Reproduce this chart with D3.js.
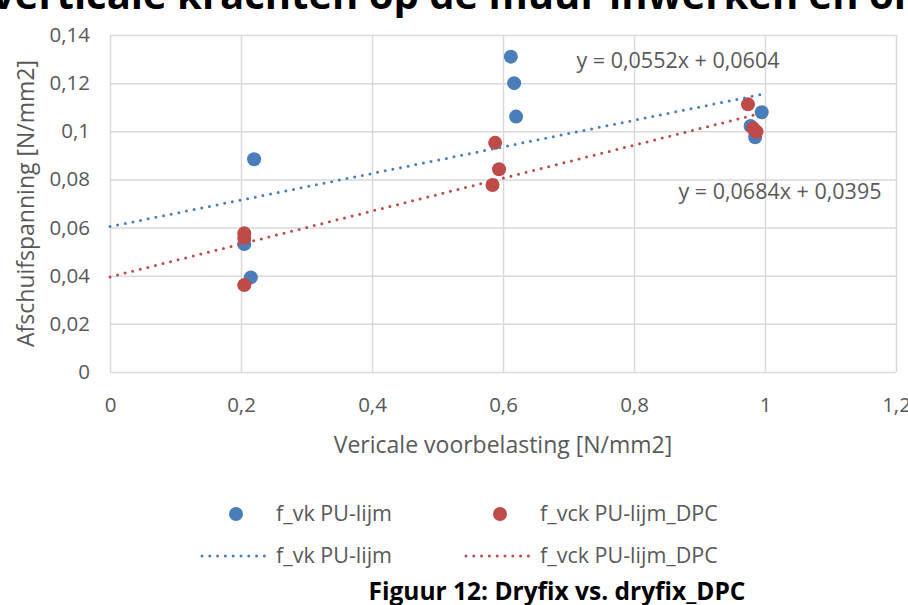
<!DOCTYPE html>
<html>
<head>
<meta charset="utf-8">
<script src="https://cdn.jsdelivr.net/npm/d3@7"></script>
<style>
	body { margin: 0; background: #fff; }
	svg { display: block; font-family: 'Open Sans', sans-serif; }
	.tick text { fill: #595959; font-size: 20.5px; }
	.grid line { stroke: #d9d9d9; stroke-width: 1.5; }
	.label { fill: #595959; font-size: 21.5px; }
	.axis-title { fill: #595959; font-size: 23px; }
</style>
</head>
<body>
<svg></svg>
<script>
// series: f_vk PU-lijm
const vkX = [0.220, 0.215, 0.205, 0.612, 0.617, 0.620, 0.995, 0.985, 0.978]
const vkY = [0.0884, 0.0393, 0.0532, 0.131, 0.120, 0.1061, 0.1079, 0.0975, 0.1022]
// series: f_vck PU-lijm_DPC
const vckX = [0.205, 0.205, 0.205, 0.588, 0.594, 0.584, 0.974, 0.982, 0.987]
const vckY = [0.0576, 0.0557, 0.0361, 0.0952, 0.0842, 0.0777, 0.1112, 0.1012, 0.0998]
// linear trendlines as printed on the chart [slope, intercept]
const vkTrend = [0.0552, 0.0604]
const vckTrend = [0.0684, 0.0395]

const seriesNames = ['f_vk PU-lijm', 'f_vck PU-lijm_DPC']
const xTicks = [0, 0.2, 0.4, 0.6, 0.8, 1, 1.2]
const yTicks = [0, 0.02, 0.04, 0.06, 0.08, 0.1, 0.12, 0.14]

const W = 908, H = 605
const plot = {left: 110, right: 896, top: 35, bottom: 372}
const colors = ['#4a7ebb', '#be4b48']

const nl = d3.formatLocale({decimal: ',', thousands: '.', grouping: [3], currency: ['€', '']})
const fmt = nl.format('~r')
const eqFmt = nl.format('.4f')

const x = d3.scaleLinear().domain([0, 1.2]).range([plot.left, plot.right])
const y = d3.scaleLinear().domain([0, 0.14]).range([plot.bottom, plot.top])

const svg = d3.select('svg')
	.attr('width', W)
	.attr('height', H)

// cut off heading from the page above
svg.append('text')
	.attr('x', -8)
	.attr('y', 9)
	.style('font-weight', 700)
	.style('font-size', '40px')
	.attr('fill', '#000')
	.text('verticale krachten op de muur inwerken en on')

// grid
svg.append('g')
	.attr('class', 'grid')
	.attr('transform', `translate(${plot.left},0)`)
	.call(d3.axisLeft(y).tickValues(yTicks).tickSize(-(plot.right - plot.left)).tickFormat(fmt).tickPadding(20))
	.call(g => g.select('.domain').remove())

svg.append('g')
	.attr('class', 'grid')
	.attr('transform', `translate(0,${plot.bottom})`)
	.call(d3.axisBottom(x).tickValues(xTicks).tickSize(-(plot.bottom - plot.top)).tickFormat(fmt).tickPadding(22))
	.call(g => g.select('.domain').remove())
	.selectAll('.tick text').attr('dy', '0.9em')

svg.selectAll('.tick text').style('font-family', "'Open Sans', sans-serif")

// axis titles
svg.append('text')
	.attr('class', 'axis-title')
	.attr('x', (plot.left + plot.right) / 2)
	.attr('y', 453)
	.attr('text-anchor', 'middle')
	.text('Vericale voorbelasting [N/mm2]')

svg.append('text')
	.attr('class', 'axis-title')
	.attr('transform', `translate(34,${(plot.top + plot.bottom) / 2}) rotate(-90)`)
	.attr('text-anchor', 'middle')
	.text('Afschuifspanning [N/mm2]')

const series = [
	{name: seriesNames[0], xs: vkX, ys: vkY, trend: vkTrend, color: colors[0]},
	{name: seriesNames[1], xs: vckX, ys: vckY, trend: vckTrend, color: colors[1]},
]

// markers
series.forEach(s => {
	svg.append('g')
		.selectAll('circle')
		.data(s.xs.map((v, i) => ({x: v, y: s.ys[i]})))
		.join('circle')
		.attr('cx', d => x(d.x))
		.attr('cy', d => y(d.y))
		.attr('r', 7)
		.attr('fill', s.color)
})

// trendlines, from 0 to the largest x of the series
series.forEach(s => {
	const xMax = d3.max(s.xs)
	svg.append('line')
		.attr('x1', x(0))
		.attr('y1', y(s.trend[1]))
		.attr('x2', x(xMax))
		.attr('y2', y(s.trend[1] + s.trend[0] * xMax))
		.attr('stroke', s.color)
		.attr('stroke-width', 3)
		.attr('stroke-linecap', 'round')
		.attr('stroke-dasharray', '0 7.8')
})

// equation labels
const eqPos = [[678, 68], [780, 199]]
series.forEach((s, i) => {
	svg.append('text')
		.attr('class', 'label')
		.attr('x', eqPos[i][0])
		.attr('y', eqPos[i][1])
		.attr('text-anchor', 'middle')
		.text(`y = ${eqFmt(s.trend[0])}x + ${eqFmt(s.trend[1])}`)
})

// legend
const legX = [236, 500]
const legText = [276, 540]
series.forEach((s, i) => {
	svg.append('circle')
		.attr('cx', legX[i])
		.attr('cy', 514)
		.attr('r', 7)
		.attr('fill', s.color)
	svg.append('text')
		.attr('class', 'label')
		.attr('x', legText[i])
		.attr('y', 521)
		.text(s.name)
	svg.append('line')
		.attr('x1', legText[i] - 74)
		.attr('x2', legText[i] - 8)
		.attr('y1', 556)
		.attr('y2', 556)
		.attr('stroke', s.color)
		.attr('stroke-width', 3)
		.attr('stroke-linecap', 'round')
		.attr('stroke-dasharray', '0 7.8')
	svg.append('text')
		.attr('class', 'label')
		.attr('x', legText[i])
		.attr('y', 563)
		.text(s.name)
})

// figure caption
svg.append('text')
	.attr('x', 557)
	.attr('y', 600)
	.attr('text-anchor', 'middle')
	.style('font-weight', 700)
	.style('font-size', '24.5px')
	.attr('fill', '#000')
	.text('Figuur 12: Dryfix vs. dryfix_DPC')
</script>
</body>
</html>
